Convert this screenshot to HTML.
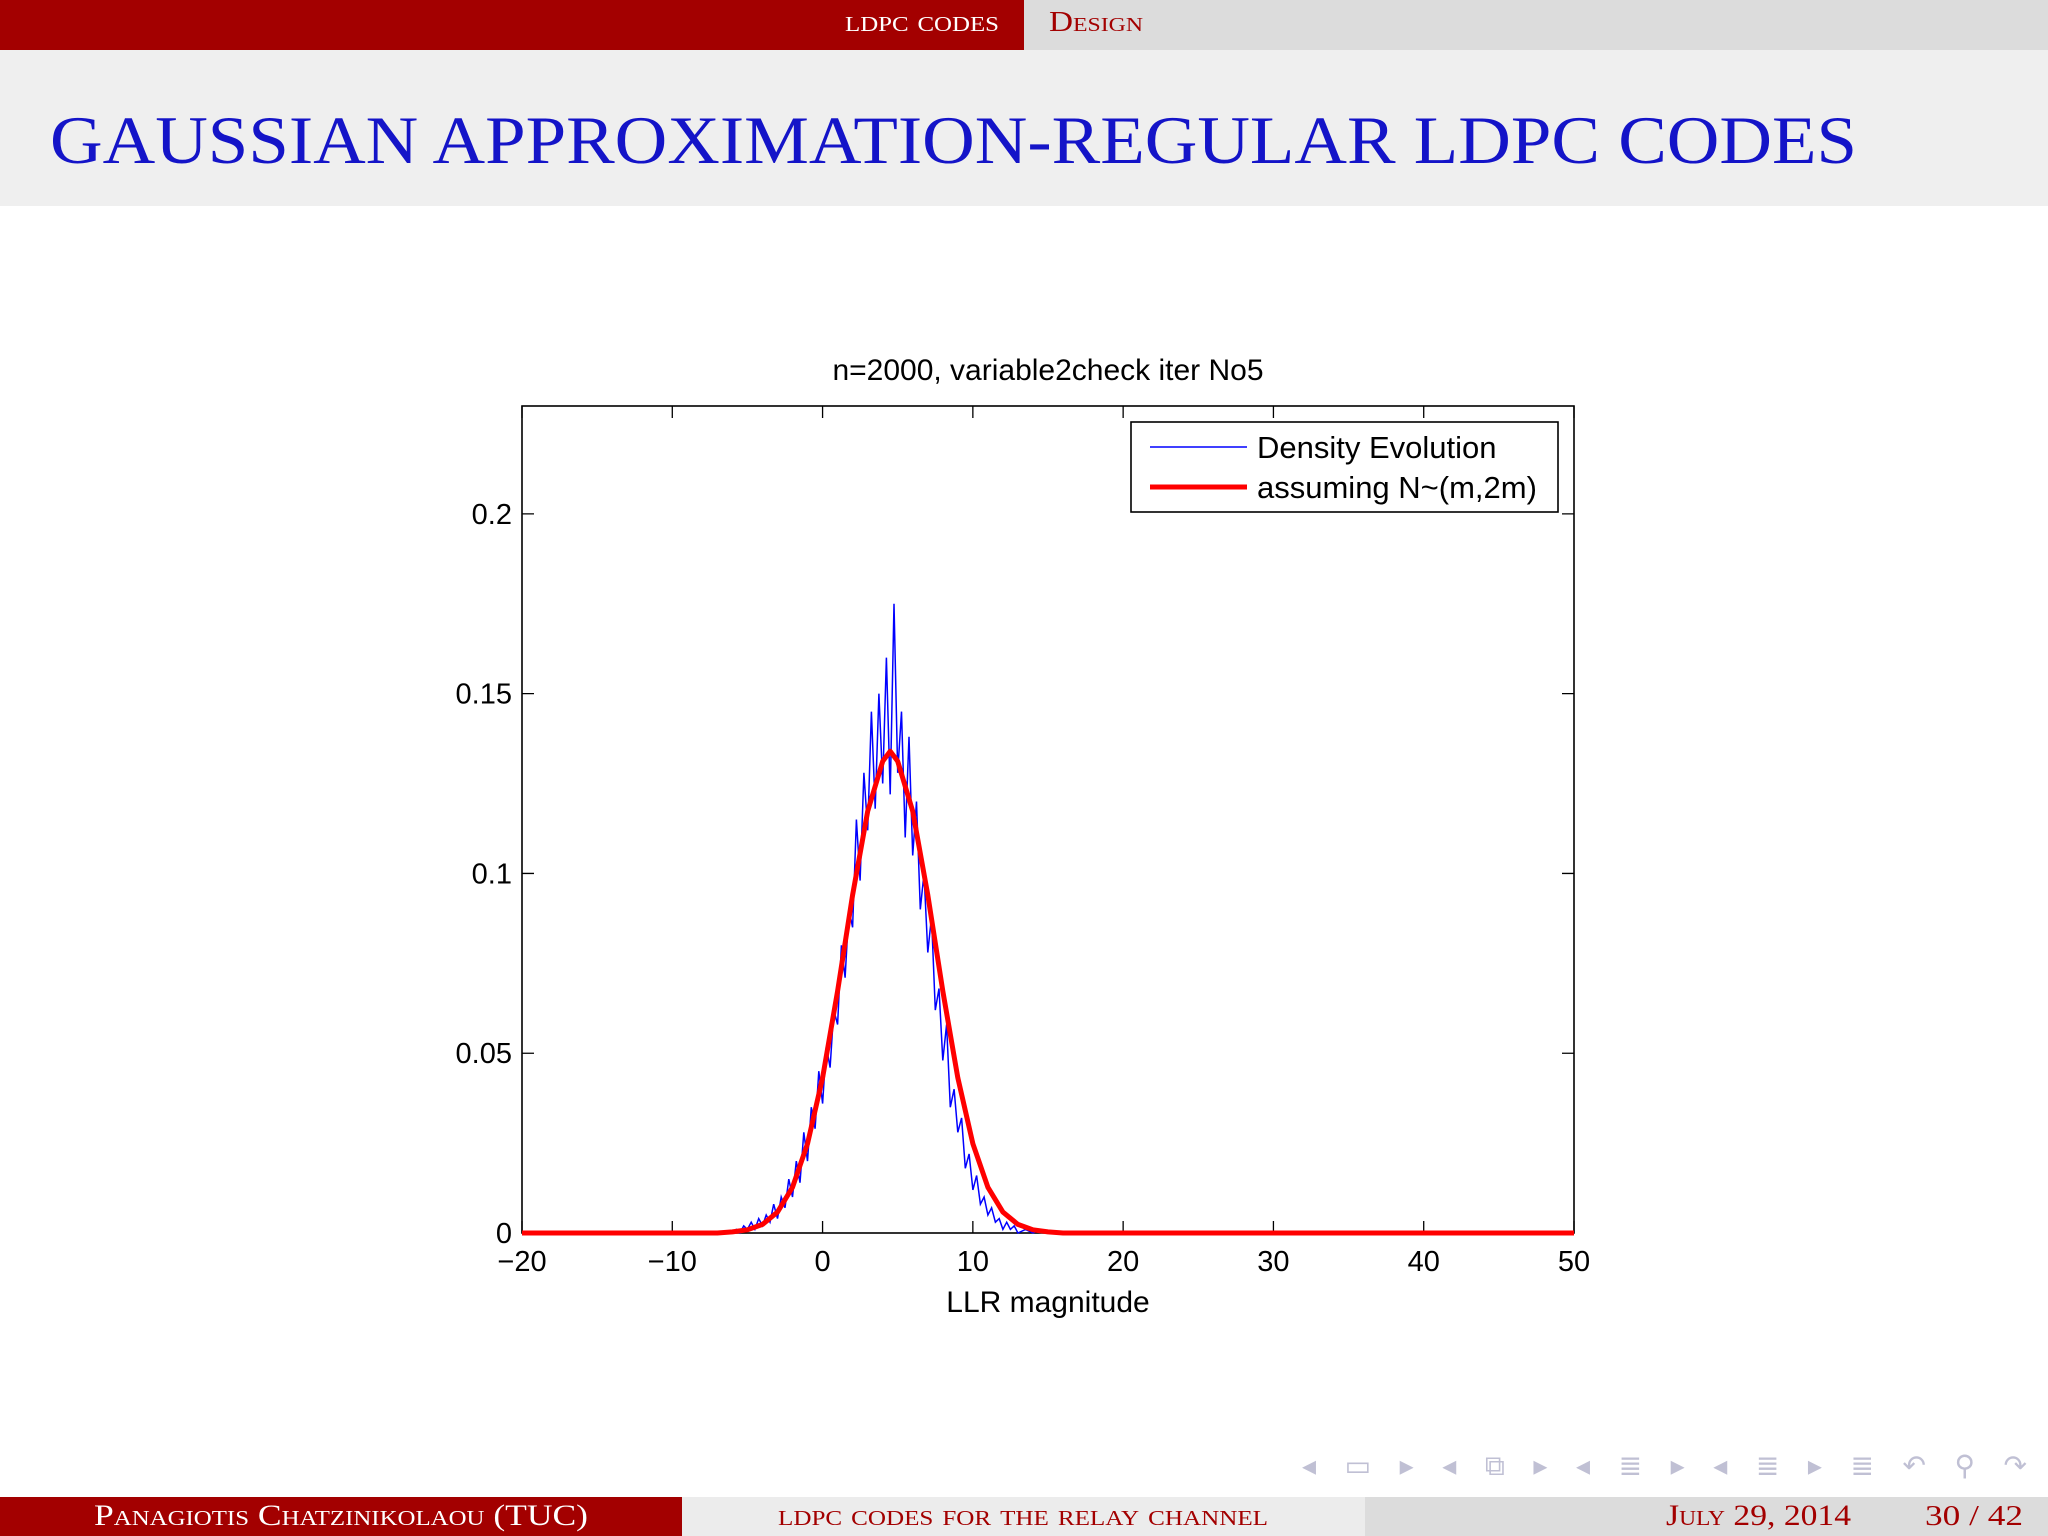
<!DOCTYPE html>
<html><head><meta charset="utf-8"><style>
html,body{margin:0;padding:0;background:#fff}
svg{display:block}
.sc{font-family:"Liberation Serif",serif;font-variant:small-caps}
.ax{font-family:"Liberation Sans",sans-serif}
</style></head><body>
<svg id="page" width="2048" height="1536" viewBox="0 0 2048 1536" xmlns="http://www.w3.org/2000/svg">
<rect x="0" y="0" width="1024" height="50" fill="#a30000"/>
<rect x="1024" y="0" width="1024" height="50" fill="#dcdcdc"/>
<text x="845" y="31" class="sc" font-size="30" fill="#fff" textLength="154" lengthAdjust="spacingAndGlyphs">ldpc codes</text>
<text x="1049" y="31" class="sc" font-size="28" fill="#a30000" textLength="94" lengthAdjust="spacingAndGlyphs">Design</text>
<rect x="0" y="50" width="2048" height="156" fill="#efefef"/>
<text x="50" y="163" class="sc" font-size="68" fill="#1414c8" textLength="1807" lengthAdjust="spacingAndGlyphs">GAUSSIAN APPROXIMATION-REGULAR LDPC CODES</text>

<g id="chart"></g>

<g fill="#c0c0d4" font-family="DejaVu Sans,sans-serif" font-size="28">
<text x="1302" y="1475" textLength="725" lengthAdjust="spacing">◂ ▭ ▸   ◂ ⧉ ▸   ◂ ≣ ▸   ◂ ≣ ▸     ≣     ↶ ⚲ ↷</text>
</g>
<rect x="0" y="1497" width="682" height="39" fill="#a30000"/>
<rect x="682" y="1497" width="683" height="39" fill="#ececec"/>
<rect x="1365" y="1497" width="683" height="39" fill="#dcdcdc"/>
<text x="94" y="1525" class="sc" font-size="30" fill="#fff" textLength="494" lengthAdjust="spacingAndGlyphs">Panagiotis Chatzinikolaou  (TUC)</text>
<text x="778" y="1525" class="sc" font-size="30" fill="#a30000" textLength="490" lengthAdjust="spacingAndGlyphs">ldpc codes for the relay channel</text>
<text x="1666" y="1525" class="sc" font-size="30" fill="#a30000" textLength="185" lengthAdjust="spacingAndGlyphs">July 29, 2014</text>
<text x="1925" y="1525" font-family="Liberation Serif,serif" font-size="28" fill="#a30000" textLength="98" lengthAdjust="spacingAndGlyphs">30 / 42</text>
</svg>
<script>
const xTicks=[-20,-10,0,10,20,30,40,50];
const yTicks=[0,0.05,0.1,0.15,0.2];
const yTickLabels=["0","0.05","0.1","0.15","0.2"];
const xTickLabels=["\u221220","\u221210","0","10","20","30","40","50"];
const fitX=[-20,-7,-6,-5,-4,-3,-2,-1,0,1,2,3,4,4.5,5,6,7,8,9,10,11,12,13,14,15,16,50];
const fitY=[0,0,0.0003,0.0009,0.0024,0.0058,0.0127,0.0248,0.0432,0.0673,0.094,0.1173,0.1312,0.134,0.1312,0.1173,0.094,0.0673,0.0432,0.0248,0.0127,0.0058,0.0024,0.0009,0.0003,0,0];
const histX=[-20,-6,-5.75,-5.5,-5.25,-5,-4.75,-4.5,-4.25,-4,-3.75,-3.5,-3.25,-3,-2.75,-2.5,-2.25,-2,-1.75,-1.5,-1.25,-1,-0.75,-0.5,-0.25,0,0.25,0.5,0.75,1,1.25,1.5,1.75,2,2.25,2.5,2.75,3,3.25,3.5,3.75,4,4.25,4.5,4.75,5,5.25,5.5,5.75,6,6.25,6.5,6.75,7,7.25,7.5,7.75,8,8.25,8.5,8.75,9,9.25,9.5,9.75,10,10.25,10.5,10.75,11,11.25,11.5,11.75,12,12.25,12.5,12.75,13,13.5,14,14.5,15,50];
const histY=[0,0,0.001,0,0.002,0.001,0.003,0.001,0.004,0.002,0.005,0.003,0.008,0.004,0.01,0.007,0.015,0.01,0.02,0.014,0.028,0.02,0.035,0.029,0.045,0.036,0.052,0.046,0.062,0.058,0.08,0.071,0.09,0.085,0.115,0.098,0.128,0.112,0.145,0.118,0.15,0.125,0.16,0.122,0.175,0.128,0.145,0.11,0.138,0.105,0.12,0.09,0.1,0.078,0.088,0.062,0.068,0.048,0.058,0.035,0.04,0.028,0.032,0.018,0.022,0.012,0.016,0.008,0.01,0.005,0.007,0.003,0.004,0.001,0.003,0.001,0.002,0,0.001,0,0.001,0,0];

const L=522,R=1574,T=406,B=1233;
const sx=v=>L+(v+20)/70*(R-L);
const sy=v=>B-v/0.23*(B-T);
const NS="http://www.w3.org/2000/svg";
const g=document.getElementById('chart');
function mk(tag,attrs,txt){const e=document.createElementNS(NS,tag);for(const k in attrs)e.setAttribute(k,attrs[k]);if(txt!==undefined)e.textContent=txt;g.appendChild(e);return e;}

let e=mk('rect',{x:L,y:T,width:R-L,height:B-T,fill:'#fff',stroke:'#000','stroke-width':1.6});



xTicks.forEach((v,i)=>{
  const x=sx(v);
  let t=mk('path',{d:`M${x},${B}v-12M${x},${T}v12`,stroke:'#000','stroke-width':1.3});
  
  
  let l=mk('text',{x:x,y:B+38,'text-anchor':'middle','font-size':29,class:'ax'},xTickLabels[i]);
  
  
});
yTicks.forEach((v,i)=>{
  const y=sy(v);
  let t=mk('path',{d:`M${L},${y}h12M${R},${y}h-12`,stroke:'#000','stroke-width':1.3});
  
  
  let l=mk('text',{x:L-10,y:y+10,'text-anchor':'end','font-size':29,class:'ax'},yTickLabels[i]);
  
  
});

let hp=histX.map((x,i)=>(i?'L':'M')+sx(x).toFixed(1)+','+sy(histY[i]).toFixed(1)).join('');
e=mk('path',{d:hp,fill:'none',stroke:'#0000ff','stroke-width':1.5});


let fp=fitX.map((x,i)=>(i?'L':'M')+sx(x).toFixed(1)+','+sy(fitY[i]).toFixed(1)).join('');
e=mk('path',{d:fp,fill:'none',stroke:'#ff0000','stroke-width':5,'stroke-linejoin':'round'});



e=mk('text',{x:(L+R)/2,y:380,'text-anchor':'middle','font-size':30,class:'ax'},'n=2000, variable2check iter No5');


e=mk('text',{x:(L+R)/2,y:1312,'text-anchor':'middle','font-size':30,class:'ax'},'LLR magnitude');



e=mk('rect',{x:1131,y:422,width:427,height:90,fill:'#fff',stroke:'#000','stroke-width':1.6});


e=mk('path',{d:'M1150,447h97',stroke:'#0000ff','stroke-width':1.5});


e=mk('text',{x:1257,y:458,'font-size':31,class:'ax'},'Density Evolution');


e=mk('path',{d:'M1150,487h97',stroke:'#ff0000','stroke-width':5});


e=mk('text',{x:1257,y:498,'font-size':31,class:'ax'},'assuming N~(m,2m)');


</script>
</body></html>
